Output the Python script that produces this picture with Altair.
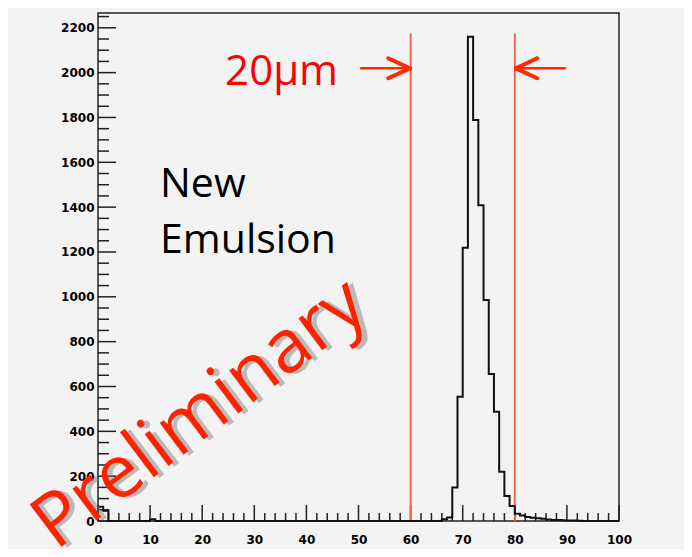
import altair as alt
import pandas as pd

# ---- data ----
nz_bins = [0, 1, 10, 66, 67, 68, 69, 70, 71, 72, 73, 74, 75, 76, 77, 78, 79,
           80, 81, 82, 83, 84, 85, 86, 87, 88, 89, 90, 91, 92]
nz_counts = [64, 46, 8, 8, 16, 149, 554, 1219, 2160, 1789, 1409, 986, 656, 487,
             220, 112, 67, 32, 24, 18, 14, 12, 10, 7, 5, 4, 3, 2, 2, 1]
x_labels = [0, 10, 20, 30, 40, 50, 60, 70, 80, 90, 100]
y_labels = [0, 200, 400, 600, 800, 1000, 1200, 1400, 1600, 1800, 2000, 2200]
red_lines = [60, 80]
label_20 = "20μm"
label_new = ["New", "Emulsion"]
label_prelim = "Preliminary"

X_MAX = 100
Y_MAX = 2266
W, H = 521, 508

# ---- build tables ----
counts = {b: c for b, c in zip(nz_bins, nz_counts)}
edges = list(range(0, X_MAX + 1))
hist = pd.DataFrame({
    "x": edges,
    "y": [counts.get(e, 0) if e < X_MAX else counts.get(X_MAX - 1, 0) for e in edges],
})

xs = alt.Scale(domain=[0, X_MAX], nice=False, zero=False)
ys = alt.Scale(domain=[0, Y_MAX], nice=False, zero=False)

label_font = "DejaVu Sans"

hist_line = alt.Chart(hist).mark_line(
    interpolate="step-after", color="#111111", strokeWidth=2
).encode(
    x=alt.X("x:Q", scale=xs, title=None,
            axis=alt.Axis(values=x_labels, format="d", ticks=False, domain=False, grid=False,
                          labelFont=label_font, labelFontWeight="bold",
                          labelFontSize=12, labelColor="#000000",
                          labelPadding=13, labelFlush=False)),
    y=alt.Y("y:Q", scale=ys, title=None,
            axis=alt.Axis(values=y_labels, format="d", ticks=False, domain=False, grid=False,
                          labelFont=label_font, labelFontWeight="bold",
                          labelFontSize=12, labelColor="#000000",
                          labelPadding=4, labelFlush=False)),
)

# ticks drawn inward (ROOT style)
x_minor = [v for a in x_labels[:-1] for v in (a + 2, a + 4, a + 6, a + 8)]
y_minor = [v for a in y_labels for v in (a + 50, a + 100, a + 150) if v < Y_MAX]

xt_major = alt.Chart(pd.DataFrame({"v": x_labels})).mark_rule(color="#222", strokeWidth=1.5).encode(
    x=alt.X("v:Q", scale=xs), y=alt.value(H), y2=alt.value(H - 16))
xt_minor = alt.Chart(pd.DataFrame({"v": x_minor})).mark_rule(color="#222", strokeWidth=1.5).encode(
    x=alt.X("v:Q", scale=xs), y=alt.value(H), y2=alt.value(H - 8))
yt_major = alt.Chart(pd.DataFrame({"v": y_labels})).mark_rule(color="#222", strokeWidth=1.5).encode(
    y=alt.Y("v:Q", scale=ys), x=alt.value(0), x2=alt.value(18))
yt_minor = alt.Chart(pd.DataFrame({"v": y_minor})).mark_rule(color="#222", strokeWidth=1.5).encode(
    y=alt.Y("v:Q", scale=ys), x=alt.value(0), x2=alt.value(11))

# red vertical lines
vlines = alt.Chart(pd.DataFrame({"x": red_lines, "y": [0, 0], "y2": [2175, 2175]})).mark_rule(
    color="#ff5a3c", strokeWidth=1.8
).encode(x=alt.X("x:Q", scale=xs), y=alt.Y("y:Q", scale=ys), y2="y2:Q")

# arrows
shafts = pd.DataFrame({"x": [50.5, 89.6], "x2": [59.9, 80.2], "y": [2019, 2019], "y2": [2019, 2019]})
barbs = pd.DataFrame({
    "x": [59.9, 59.9, 80.2, 80.2],
    "x2": [55.7, 55.7, 84.3, 84.3],
    "y": [2019, 2019, 2019, 2019],
    "y2": [2064, 1975, 2064, 1975],
})
arrow_shaft = alt.Chart(shafts).mark_rule(color="#ff2a00", strokeWidth=2.5, strokeCap="round").encode(
    x=alt.X("x:Q", scale=xs), x2="x2:Q", y=alt.Y("y:Q", scale=ys), y2="y2:Q")
arrow_barb = alt.Chart(barbs).mark_rule(color="#ff2a00", strokeWidth=4, strokeCap="round").encode(
    x=alt.X("x:Q", scale=xs), x2="x2:Q", y=alt.Y("y:Q", scale=ys), y2="y2:Q")

txt20 = alt.Chart(pd.DataFrame({"x": [24.4], "y": [1945], "t": [label_20]})).mark_text(
    font="Open Sans", fontSize=42, color="#ff0000", align="left", baseline="alphabetic"
).encode(x=alt.X("x:Q", scale=xs), y=alt.Y("y:Q", scale=ys), text="t:N")

txtnew = alt.Chart(pd.DataFrame({"x": [11.9, 11.9], "y": [1447, 1194], "t": label_new})).mark_text(
    font="Open Sans", fontSize=41, color="#000000", align="left", baseline="alphabetic"
).encode(x=alt.X("x:Q", scale=xs), y=alt.Y("y:Q", scale=ys), text="t:N")

prelim_df = pd.DataFrame({"x": [19.6], "y": [474], "t": [label_prelim]})
prelim_shadow = alt.Chart(prelim_df).mark_text(
    font="Open Sans", fontSize=74, color="#777777", opacity=0.45, align="center",
    baseline="middle", angle=323, dx=4, dy=4
).encode(x=alt.X("x:Q", scale=xs), y=alt.Y("y:Q", scale=ys), text="t:N")
prelim = alt.Chart(prelim_df).mark_text(
    font="Open Sans", fontSize=74, color="#ff2200", align="center",
    baseline="middle", angle=323
).encode(x=alt.X("x:Q", scale=xs), y=alt.Y("y:Q", scale=ys), text="t:N")

chart = alt.layer(
    xt_minor, xt_major, yt_minor, yt_major, vlines, hist_line,
    arrow_shaft, arrow_barb, txt20, txtnew, prelim_shadow, prelim
).properties(
    width=W, height=H,
    autosize=alt.AutoSizeParams(type="none"),
    padding={"left": 90, "top": 5, "right": 65, "bottom": 28},
    background="#f3f3f3",
).configure_view(stroke="#222222", strokeWidth=1.5)

chart.save("out.html", embed_options={"renderer": "svg", "actions": False})
